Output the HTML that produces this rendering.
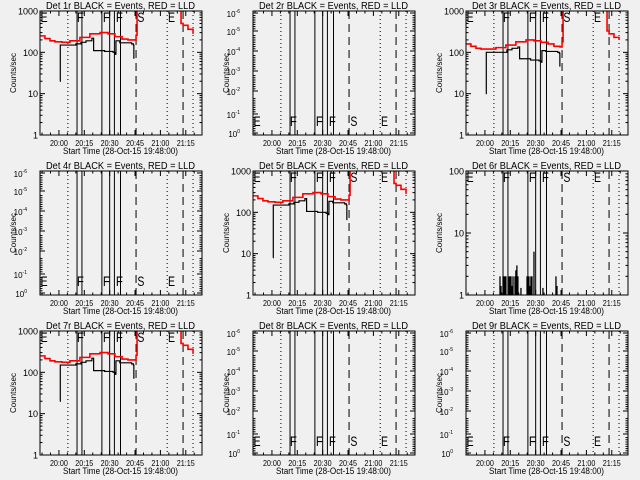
<!DOCTYPE html>
<html><head><meta charset="utf-8"><style>
html,body{margin:0;padding:0;background:#f0f0f0;}
svg{display:block;}
text{font-family:"Liberation Sans",sans-serif;fill:#000;}
</style></head><body>
<svg id="c" width="640" height="480" xmlns="http://www.w3.org/2000/svg"></svg>
<script>
// time in minutes relative to 20:00
const timeTicks = [0, 15, 30, 45, 60, 75];
const timeTickLabels = ["20:00", "20:15", "20:30", "20:45", "21:00", "21:15"];
const solidLines = [10.7, 13.6, 25.4, 30, 32.8, 36.4];
const dashedLines = [45.6, 73.4];
const dottedLines = [5.3, 64, 79.3];
const eventLetters = ["E", "F", "F", "F", "S", "E"];
const letterTimes = [-10.8, 10.6, 26, 33.7, 46.4, 64.5];
const redT1 = [-11.2, -8.3, -5.3, -2.4, 1.8, 6.5, 12.4, 18.3, 24.3, 29, 33.1, 37.3, 40.8, 44.4, 45.6, 46.2];
const redV1 = [250, 215, 190, 180, 175, 190, 230, 280, 300, 280, 240, 210, 200, 200, 260, 1300];
const redT2 = [71, 72.2, 73.4, 76.3, 79.3];
const redV2 = [1300, 500, 450, 360, 280];
const redV2b = [1300, 330, 280, 230, 200];
const blackT = [0.6, 0.8, 10, 13, 16, 19.5, 20.5, 27, 32, 33, 33.7, 36, 43, 44, 44.3];
const blackV1 = [20, 150, 160, 175, 190, 220, 110, 105, 100, 90, 190, 170, 160, 150, 70];
const blackV5 = [8, 150, 160, 175, 190, 215, 105, 100, 95, 88, 185, 170, 160, 150, 65];
const blackV3 = [10, 100, 100, 115, 125, 135, 70, 65, 62, 58, 110, 105, 100, 95, 45];
const redV3 = [160, 140, 125, 120, 120, 130, 150, 180, 200, 190, 175, 160, 140, 135, 180, 1300];
const spikeT = [8.9, 9.5, 10.7, 11.2, 11.8, 12.4, 14.2, 14.8, 15.4, 16, 16.6, 17.8, 18.3, 18.9, 19.5, 21.3, 24.9, 25.4, 26, 26.6, 27.2, 27.8, 29, 34.3, 42, 42.6];
const spikeV = [2, 1.4, 2, 2, 2, 2, 2, 2, 2, 1.4, 2, 2, 2.5, 3, 2, 1.3, 2, 2, 2, 1.4, 2, 2, 5, 1.3, 2, 1.4];

const NS = "http://www.w3.org/2000/svg";
const svg = document.getElementById("c");
function mk(tag, attrs, parent) {
  const e = document.createElementNS(NS, tag);
  for (const k in attrs) e.setAttribute(k, attrs[k]);
  parent.appendChild(e);
  return e;
}
const PX0 = 40, PX1 = 202, PY0 = 11, PY1 = 135;
const T0 = -11.2, T1 = 84.6;
function xs(t) { return PX0 + (t - T0) / (T1 - T0) * (PX1 - PX0); }

function panel(idx, col, row, cfg) {
  const g = mk("g", {transform: `translate(${col*213},${row*160})`}, svg);
  
  
  const t = mk("text", {x: 46, y: 9, "font-size": 10, textLength: 149, lengthAdjust: "spacingAndGlyphs"}, g);
  t.textContent = `Det ${idx}r BLACK = Events, RED = LLD`;
  
  
  const yl = mk("text", {x: 0, y: 0, "font-size": 8, "text-anchor": "middle", transform: "translate(16,73) rotate(-90)"}, g);
  yl.textContent = "Counts/sec";
  
  
  const xl = mk("text", {x: 63, y: 154, "font-size": 9, textLength: 115, lengthAdjust: "spacingAndGlyphs"}, g);
  xl.textContent = "Start Time (28-Oct-15 19:48:00)";
  
  
  const ymin = cfg.ymin, ymax = cfg.ymax;
  const ys = v => PY1 - (Math.log10(v) - Math.log10(ymin)) / (Math.log10(ymax) - Math.log10(ymin)) * (PY1 - PY0);
  timeTicks.forEach((tt, i) => {
    const x = xs(tt);
    mk("line", {x1: x, x2: x, y1: PY1, y2: PY1 - 5, stroke: "#000"}, g);
    mk("line", {x1: x, x2: x, y1: PY0, y2: PY0 + 5, stroke: "#000"}, g);
    const tl = mk("text", {x: x - 9, y: 146, "font-size": 8, textLength: 18, lengthAdjust: "spacingAndGlyphs"}, g);
    tl.textContent = timeTickLabels[i];
    
    
  });
  for (let m = -10; m <= 84; m += 5) {
    if (m % 15 === 0) continue;
    const x = xs(m);
    mk("line", {x1: x, x2: x, y1: PY1, y2: PY1 - 2.5, stroke: "#000"}, g);
    mk("line", {x1: x, x2: x, y1: PY0, y2: PY0 + 2.5, stroke: "#000"}, g);
  }
  if (cfg.weird) {
    const labs = ["-6", "-5", "-4", "-3", "-2", "-1", "0"];
    const pos = [13, 31, 51, 71, 91, 114, 133];
    labs.forEach((l, i) => {
      const tx = mk("text", {x: 27, y: pos[i] + 4, "font-size": 8, "text-anchor": "end"}, g);
      tx.textContent = "10";
      const s = mk("tspan", {dy: -4, "font-size": 5}, tx);
      s.textContent = l;
      
      
      mk("line", {x1: PX0, x2: PX0 + 5, y1: pos[i], y2: pos[i], stroke: "#000"}, g);
      mk("line", {x1: PX1, x2: PX1 - 5, y1: pos[i], y2: pos[i], stroke: "#000"}, g);
      for (let k = 1; k < 8; k++) {
        const yy = pos[i] - k * 2.2;
        if (i === 0 || yy < PY0) break;
        mk("line", {x1: PX0, x2: PX0 + 2.5, y1: yy, y2: yy, stroke: "#000"}, g);
        mk("line", {x1: PX1, x2: PX1 - 2.5, y1: yy, y2: yy, stroke: "#000"}, g);
      }
    });
  } else {
    for (let d = Math.log10(ymin); d <= Math.log10(ymax); d++) {
      const v = Math.pow(10, d), y = ys(v);
      mk("line", {x1: PX0, x2: PX0 + 5, y1: y, y2: y, stroke: "#000"}, g);
      mk("line", {x1: PX1, x2: PX1 - 5, y1: y, y2: y, stroke: "#000"}, g);
      const tx = mk("text", {x: 38, y: y + 3.5, "font-size": 9, "text-anchor": "end"}, g);
      tx.textContent = String(v);
      
      
      if (v < ymax) for (let k = 2; k < 10; k++) {
        const yy = ys(v * k);
        mk("line", {x1: PX0, x2: PX0 + 2.5, y1: yy, y2: yy, stroke: "#000"}, g);
        mk("line", {x1: PX1, x2: PX1 - 2.5, y1: yy, y2: yy, stroke: "#000"}, g);
      }
    }
  }
  dottedLines.forEach(tt => { const x = xs(tt); const l = mk("line", {x1: x, x2: x, y1: PY0, y2: PY1, stroke: "#000", "stroke-dasharray": "1,3"}, g);   });
  dashedLines.forEach(tt => { const x = xs(tt); const l = mk("line", {x1: x, x2: x, y1: PY0, y2: PY1, stroke: "#000", "stroke-dasharray": "8,5"}, g);   });
  solidLines.forEach(tt => { const x = xs(tt); const l = mk("line", {x1: x, x2: x, y1: PY0, y2: PY1, stroke: "#000"}, g);   });
  eventLetters.forEach((L, i) => {
    const tx = mk("text", {x: xs(letterTimes[i]), y: cfg.lettersTop ? 22 : 126, "font-size": 14, textLength: 7, lengthAdjust: "spacingAndGlyphs"}, g);
    tx.textContent = L;
    
    
  });
  const clipId = "clip" + idx;
  const cp = mk("clipPath", {id: clipId}, g);
  mk("rect", {x: PX0, y: PY0, width: PX1 - PX0, height: PY1 - PY0}, cp);
  function step(T, V, color, name) {
    let d = "";
    T.forEach((tt, i) => {
      const x = xs(tt), y = ys(V[i]);
      if (i === 0) d += `M${x},${y}`;
      else d += `H${x}V${y}`;
    });
    const p = mk("path", {d: d, fill: "none", stroke: color, "stroke-width": color === "red" ? 1.6 : 1.2, "clip-path": `url(#${clipId})`}, g);
    
    
  }
  if (cfg.black) step(blackT, cfg.black, "#000", "events-series");
  if (cfg.red) { step(redT1, cfg.red, "red", "lld-series"); step(redT2, cfg.red2 || redV2, "red", "lld-series-late"); }
  if (cfg.spikes) {
    spikeT.forEach((tt, i) => {
      const x = xs(tt);
      const l = mk("line", {x1: x, x2: x, y1: PY1, y2: ys(spikeV[i]), stroke: "#000", "stroke-width": 1.3}, g);
      
      
    });
  }
  const box = mk("rect", {x: PX0, y: PY0, width: PX1 - PX0, height: PY1 - PY0, fill: "none", stroke: "#000"}, g);
  
  
}
panel(1, 0, 0, {ymin: 1, ymax: 1000, lettersTop: true, black: blackV1, red: redV1});
panel(2, 1, 0, {ymin: 1, ymax: 1000, weird: true});
panel(3, 2, 0, {ymin: 1, ymax: 1000, lettersTop: true, black: blackV3, red: redV3, red2: redV2b});
panel(4, 0, 1, {ymin: 1, ymax: 1000, weird: true});
panel(5, 1, 1, {ymin: 1, ymax: 1000, lettersTop: true, black: blackV5, red: redV1});
panel(6, 2, 1, {ymin: 1, ymax: 100, lettersTop: true, spikes: true});
panel(7, 0, 2, {ymin: 1, ymax: 1000, lettersTop: true, black: blackV1, red: redV1});
panel(8, 1, 2, {ymin: 1, ymax: 1000, weird: true});
panel(9, 2, 2, {ymin: 1, ymax: 1000, weird: true});
</script>
</body></html>
